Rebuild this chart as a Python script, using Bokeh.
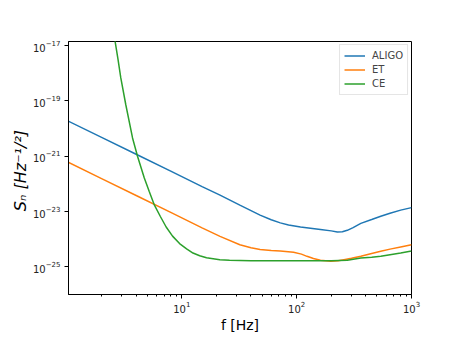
from bokeh.plotting import figure
from bokeh.models import FixedTicker, LogTickFormatter, Legend, LegendItem
from bokeh.embed import file_html
from bokeh.resources import INLINE

# ALIGO (log10 of Sn)
f_aligo = [1, 2, 4, 8, 15, 21.5, 32, 48, 60, 72, 85, 108, 161, 200, 226, 250, 276, 310,
           362, 450, 540, 650, 805, 1000]
log_s_aligo = [-19.71, -20.32, -20.93, -21.54, -22.10, -22.41, -22.77, -23.13, -23.30,
               -23.41, -23.49, -23.56, -23.65, -23.70, -23.74, -23.73, -23.68, -23.58,
               -23.43, -23.29, -23.17, -23.06, -22.95, -22.86]
# ET
f_et = [1, 2, 4, 8, 15, 21.5, 32, 40, 48, 60, 72, 94, 110, 123, 140, 161, 198, 230, 258,
        300, 362, 450, 540, 650, 805, 1000]
log_s_et = [-21.20, -21.81, -22.42, -23.03, -23.59, -23.90, -24.20, -24.31, -24.37, -24.41,
            -24.43, -24.47, -24.54, -24.62, -24.70, -24.76, -24.80, -24.78, -24.74, -24.69,
            -24.62, -24.52, -24.44, -24.36, -24.28, -24.20]
# CE
f_ce = [2.4, 2.62, 2.78, 2.94, 3.25, 3.72, 4.11, 4.71, 5.2, 5.77, 6.5, 7.3, 8.3, 9.55, 11,
        12.5, 14.3, 16.4, 21.4, 26, 40, 100, 200, 276, 362, 450, 540, 650, 805, 1000]
log_s_ce = [-15.8, -16.84, -17.5, -18.17, -19.14, -20.34, -21.0, -21.79, -22.28, -22.77,
            -23.18, -23.56, -23.89, -24.16, -24.35, -24.50, -24.60, -24.67, -24.74, -24.76,
            -24.78, -24.78, -24.78, -24.76, -24.68, -24.65, -24.62, -24.56, -24.50, -24.43]

s_aligo = [10 ** v for v in log_s_aligo]
s_et = [10 ** v for v in log_s_et]
s_ce = [10 ** v for v in log_s_ce]

x_major = [10, 100, 1000]
x_minor = [m * d for d in [1, 10, 100] for m in range(2, 10)]
y_major = [1e-25, 1e-23, 1e-21, 1e-19, 1e-17]

FONT = "DejaVu Sans"

p = figure(width=449, height=335, x_axis_type="log", y_axis_type="log",
           x_range=(1.03, 1000), y_range=(1e-26, 1.4e-17),
           output_backend="svg", toolbar_location=None,
           min_border_left=68, min_border_right=38, min_border_top=41, min_border_bottom=40)

p.xgrid.visible = False
p.ygrid.visible = False
p.outline_line_color = "black"
p.outline_line_width = 1

p.xaxis.ticker = FixedTicker(ticks=x_major, minor_ticks=x_minor)
p.yaxis.ticker = FixedTicker(ticks=y_major, minor_ticks=[])
p.xaxis.formatter = LogTickFormatter()
p.yaxis.formatter = LogTickFormatter()

for ax in [p.xaxis[0], p.yaxis[0]]:
    ax.major_tick_in = 0
    ax.major_tick_out = 4
    ax.minor_tick_in = 0
    ax.minor_tick_out = 2
    ax.major_label_text_font = FONT
    ax.major_label_text_font_size = "10px"
    ax.major_label_text_color = "#222222"
    ax.axis_line_color = "black"
    ax.major_tick_line_color = "black"
    ax.minor_tick_line_color = "black"
    ax.axis_label_text_font = FONT
    ax.axis_label_text_font_size = "14px"
    ax.axis_label_text_font_style = "normal"
    ax.axis_label_text_color = "black"

p.xaxis.axis_label = "f [Hz]"
p.yaxis.axis_label = "Sₙ  [Hz⁻¹/²]"
p.yaxis.axis_label_text_font_style = "italic"
p.yaxis.axis_label_text_font_size = "16px"
p.xaxis.major_label_standoff = 2
p.yaxis.major_label_standoff = 4
p.xaxis.axis_label_standoff = 1
p.yaxis.axis_label_standoff = 0

r1 = p.line(f_aligo, s_aligo, line_color="#1f77b4", line_width=1.5)
r2 = p.line(f_et, s_et, line_color="#ff7f0e", line_width=1.5)
r3 = p.line(f_ce, s_ce, line_color="#2ca02c", line_width=1.5)

legend = Legend(items=[LegendItem(label="ALIGO", renderers=[r1]),
                       LegendItem(label="ET", renderers=[r2]),
                       LegendItem(label="CE", renderers=[r3])],
                location="top_right")
legend.margin = 3
legend.padding = 4
legend.spacing = 1
legend.glyph_width = 21
legend.glyph_height = 13
legend.label_text_font = FONT
legend.label_text_font_size = "10px"
legend.label_standoff = 7
legend.label_height = 13
legend.border_line_color = "#cccccc"
legend.border_line_width = 1
legend.background_fill_alpha = 0.8
p.add_layout(legend)

open("out.html", "w").write(file_html(p, INLINE))
